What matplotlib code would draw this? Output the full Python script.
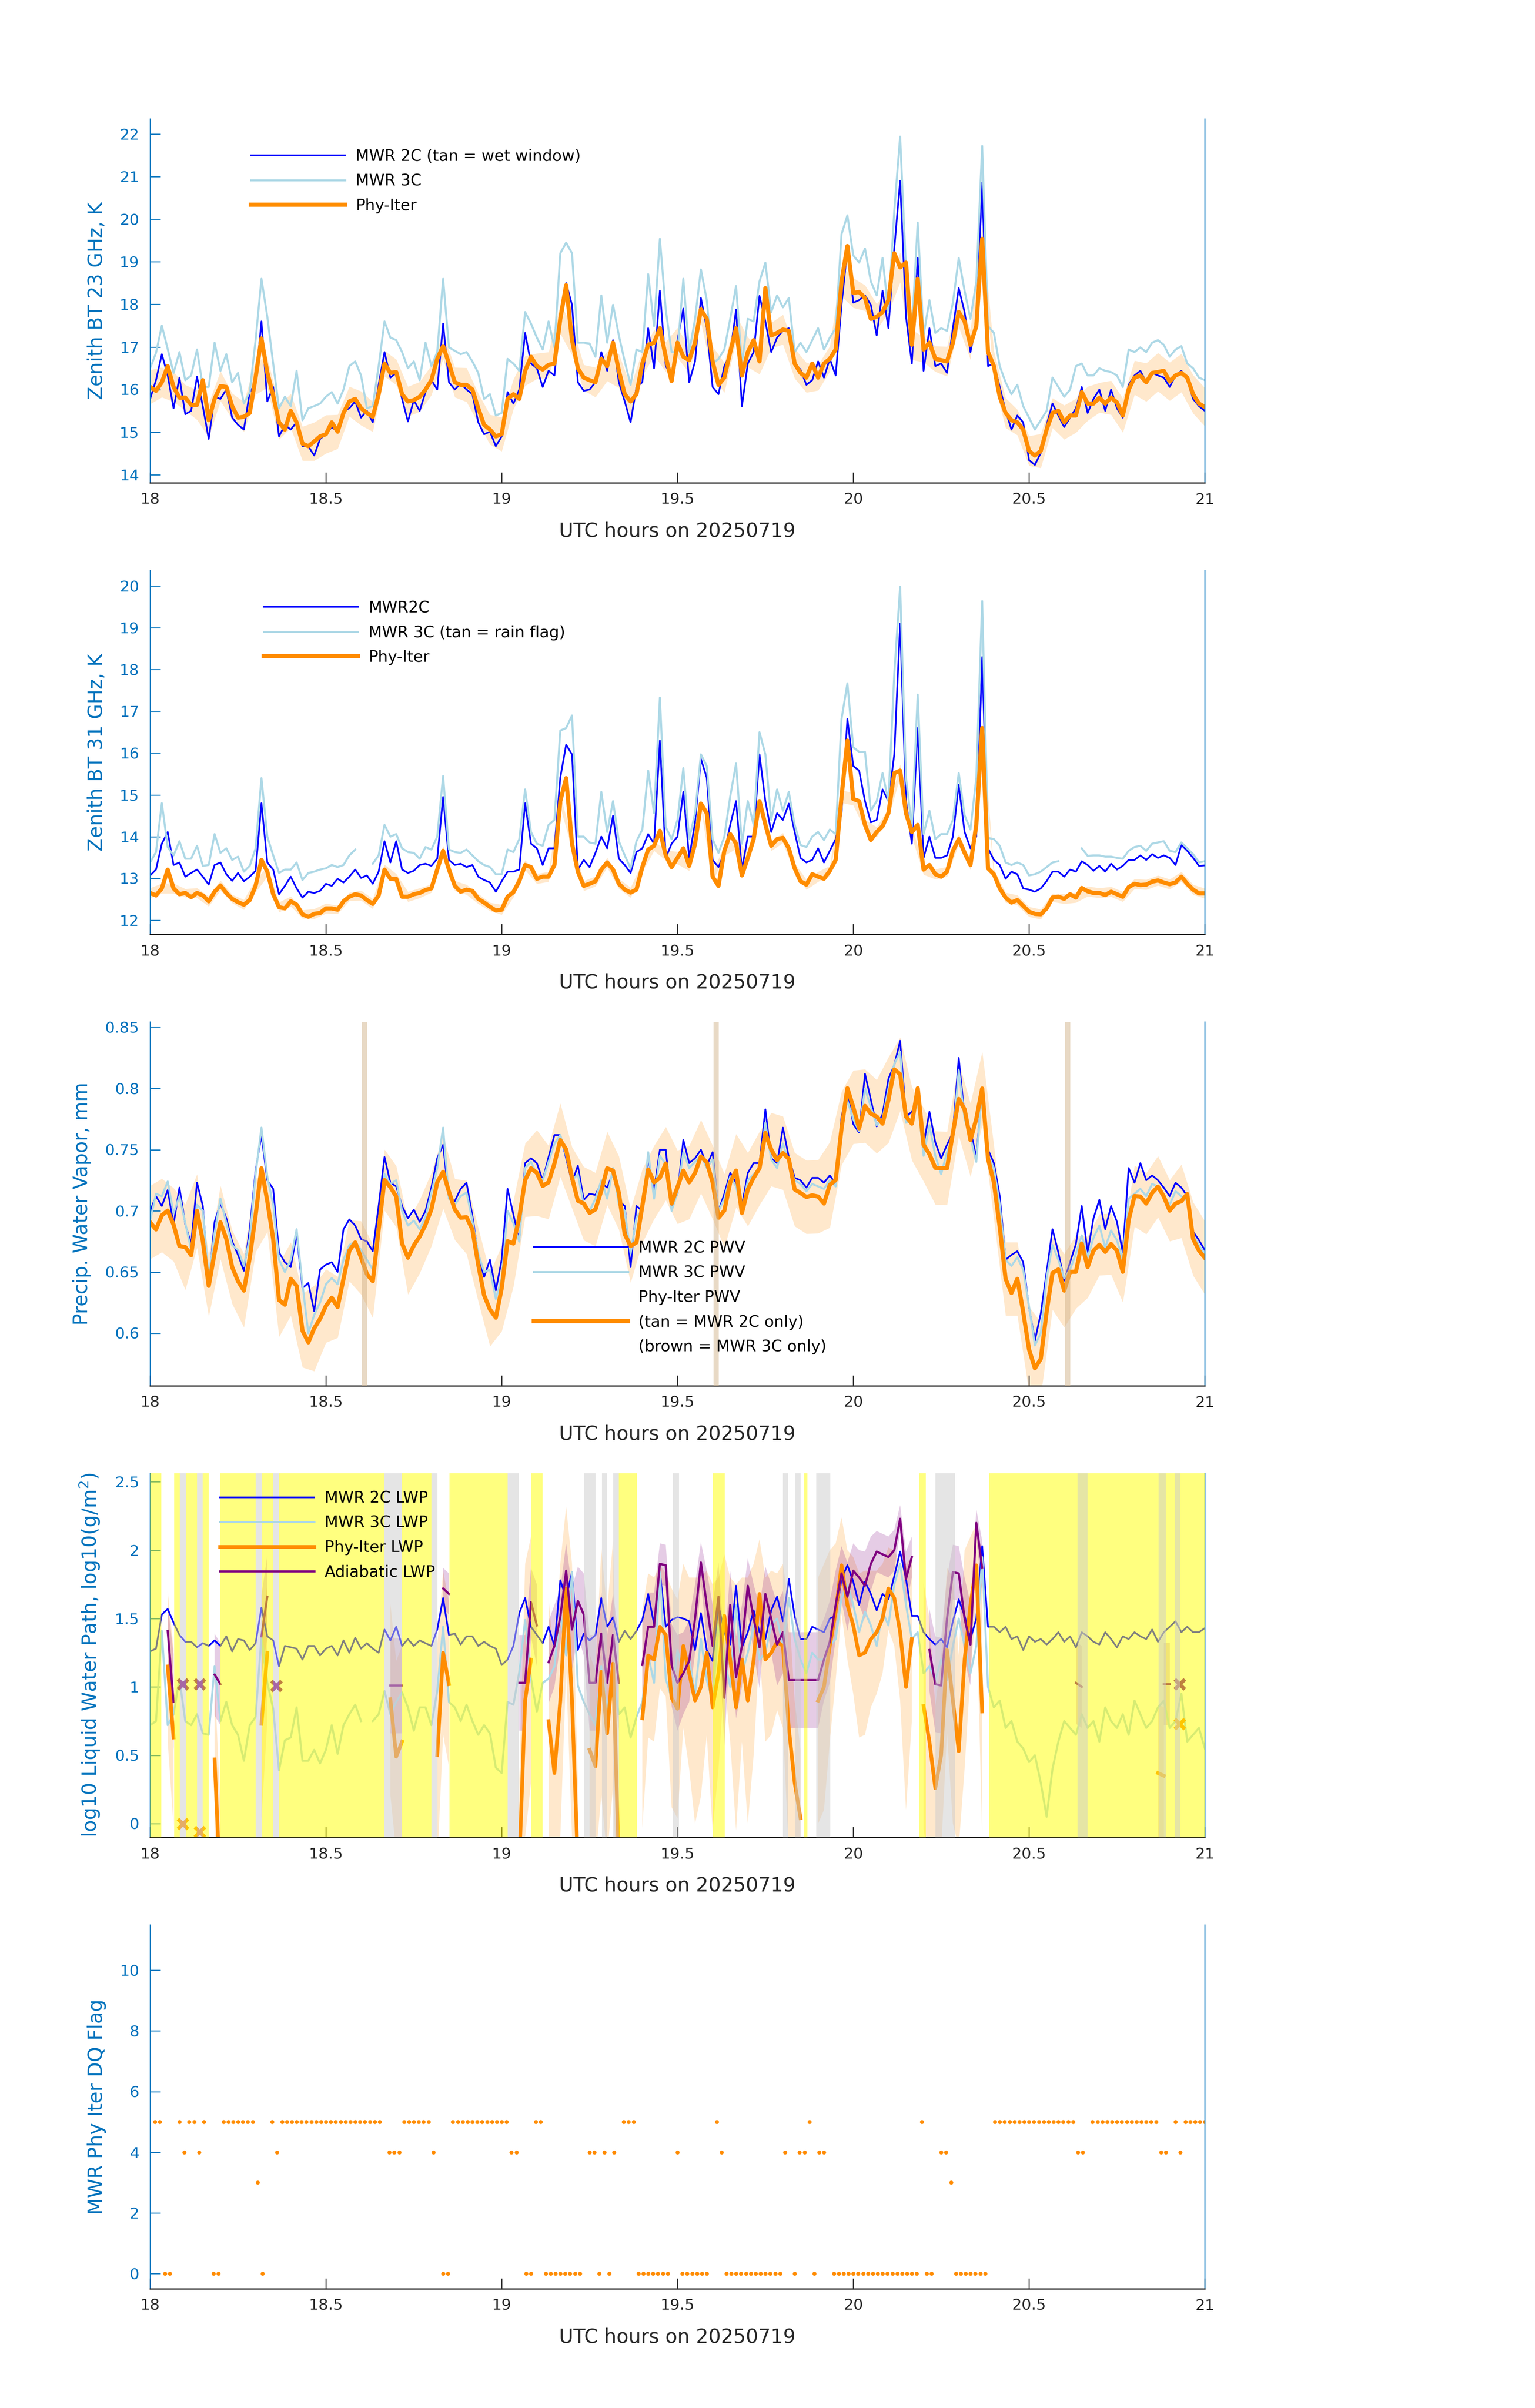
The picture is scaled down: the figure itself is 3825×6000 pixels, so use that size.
import numpy as np
import matplotlib
matplotlib.use('Agg')
import matplotlib.pyplot as plt
from matplotlib.lines import Line2D
from matplotlib.ticker import FuncFormatter

nan = np.nan

# eixo do tempo: um ponto por minuto entre 18 e 21 UTC
minutes = np.arange(181)
hours = 18 + minutes / 60.0
hours_2min = hours[::2]
flag_hours = 18 + np.arange(217) * 50 / 3600.0

# ---- painel 1: BT 23 GHz ----
bt23_2c = [15.78, 16.22, 16.83, 16.33, 15.56, 16.28, 15.42, 15.5, 16.3, 15.6,
           14.84, 15.83, 15.78, 16.0, 15.34, 15.17, 15.06, 15.94, 16.14, 17.6,
           15.72, 16.06, 14.9, 15.17, 15.06, 15.23, 14.67, 14.67, 14.45, 14.84,
           14.95, 15.12, 15.01, 15.5, 15.56, 15.72, 15.34, 15.5, 15.23, 16.11,
           16.88, 16.28, 16.39, 15.78, 15.25, 15.75, 15.5, 15.94, 16.22, 16.0,
           17.55, 16.17, 16.0, 16.14, 16.0, 15.89, 15.23, 14.95, 15.01, 14.67,
           14.9, 15.94, 15.67, 16.0, 17.33, 16.61, 16.5, 16.06, 16.44, 16.33,
           17.71, 18.5, 17.99, 16.17, 15.97, 16.0, 16.17, 16.88, 16.44, 17.16,
           16.17, 15.72, 15.23, 16.06, 16.17, 17.44, 16.5, 18.32, 16.55, 16.33,
           17.16, 17.9, 16.17, 16.66, 18.15, 17.44, 16.06, 15.89, 16.55, 16.83,
           17.88, 15.61, 16.61, 16.88, 18.2, 17.6, 16.88, 17.22, 17.38, 17.44,
           16.61, 16.47, 16.11, 16.22, 16.66, 16.28, 16.72, 16.33, 17.99, 19.31,
           18.04, 18.1, 18.21, 17.99, 17.27, 18.32, 17.44, 19.31, 20.9, 17.71,
           16.61, 19.09, 16.44, 17.44, 16.55, 16.61, 16.39, 17.44, 18.38, 17.82,
           16.88, 17.55, 20.86, 16.55, 16.61, 16.06, 15.5, 15.06, 15.39, 15.23,
           14.34, 14.23, 14.51, 15.17, 15.67, 15.39, 15.12, 15.34, 15.56, 16.06,
           15.45, 15.78, 16.0, 15.5, 16.0, 15.56, 15.34, 16.11, 16.33, 16.44,
           16.17, 16.39, 16.33, 16.28, 16.06, 16.33, 16.44, 16.22, 15.78, 15.61,
           15.5]
bt23_3c = [16.5, 16.86, 17.5, 16.95, 16.39, 16.88, 16.22, 16.33, 16.94, 16.06,
           16.06, 17.1, 16.44, 16.83, 16.17, 16.39, 15.67, 15.94, 17.16, 18.6,
           17.71, 16.61, 15.56, 15.83, 15.61, 16.44, 15.28, 15.56, 15.61, 15.67,
           15.83, 15.94, 15.67, 16.0, 16.55, 16.66, 16.33, 15.56, 15.61, 16.55,
           17.6, 17.22, 17.16, 16.88, 16.5, 16.66, 16.22, 17.1, 16.55, 16.88,
           18.6, 16.99, 16.91, 16.83, 16.88, 16.66, 16.39, 15.78, 15.89, 15.39,
           15.45, 16.72, 16.61, 16.44, 17.82, 17.55, 17.22, 16.94, 17.6, 16.99,
           19.2, 19.45, 19.2, 17.1, 17.1, 17.08, 16.77, 18.21, 17.1, 17.99,
           17.27, 16.66, 16.11, 16.94, 16.88, 18.71, 17.49, 19.54, 17.88, 16.88,
           16.88, 18.6, 16.88, 17.66, 18.82, 18.1, 16.61, 16.72, 16.94, 17.66,
           18.43, 16.61, 17.66, 17.6, 18.54, 18.98, 17.82, 18.21, 17.93, 18.15,
           16.88, 17.1, 16.88, 17.16, 17.44, 16.94, 17.22, 17.44, 19.65, 20.09,
           19.15, 18.98, 19.31, 18.54, 18.21, 19.09, 17.82, 20.2, 21.94, 18.82,
           17.38, 19.92, 17.27, 18.1, 17.33, 17.44, 17.38, 18.04, 19.09, 18.32,
           17.66, 18.54, 21.72, 17.49, 17.33, 16.55, 16.17, 15.89, 16.11, 15.61,
           15.34, 15.06, 15.28, 15.5, 16.28, 16.06, 15.83, 16.0, 16.55, 16.61,
           16.33, 16.33, 16.5, 16.44, 16.41, 16.33, 16.06, 16.94, 16.88, 16.99,
           16.88, 17.1, 17.16, 17.05, 16.77, 16.94, 17.02, 16.61, 16.5, 16.28,
           16.22]
bt23_phy = [16.06, 15.97, 16.17, 16.55, 16.06, 15.81, 15.81, 15.64, 15.64, 16.22,
            15.28, 15.78, 16.08, 16.06, 15.61, 15.34, 15.36, 15.45, 16.28, 17.2,
            16.4, 15.86, 15.23, 15.06, 15.5, 15.23, 14.73, 14.67, 14.78, 14.9,
            14.95, 15.23, 15.01, 15.45, 15.72, 15.78, 15.56, 15.45, 15.36, 15.89,
            16.61, 16.39, 16.41, 15.89, 15.72, 15.75, 15.83, 16.0, 16.22, 16.72,
            17.02, 16.61, 16.17, 16.11, 16.11, 16.0, 15.56, 15.17, 15.06, 14.9,
            14.95, 15.78, 15.89, 15.78, 16.44, 16.77, 16.55, 16.47, 16.58, 16.61,
            17.66, 18.45, 17.16, 16.5, 16.28, 16.22, 16.17, 16.72, 16.55, 17.1,
            16.44, 15.89, 15.72, 15.89, 16.61, 17.05, 17.1, 17.44, 16.77, 16.2,
            17.1, 16.77, 16.69, 17.1, 17.88, 17.66, 16.66, 16.11, 16.28, 16.88,
            17.44, 16.33, 16.88, 17.16, 16.66, 18.38, 17.27, 17.33, 17.41, 17.38,
            16.61, 16.39, 16.28, 16.61, 16.28, 16.61, 16.72, 16.94, 18.54, 19.37,
            18.27, 18.29, 18.15, 17.66, 17.71, 17.82, 18.1, 19.2, 18.87, 18.98,
            17.05, 18.6, 16.94, 17.1, 16.72, 16.69, 16.66, 17.1, 17.82, 17.6,
            17.05, 17.49, 19.54, 16.88, 16.55, 15.83, 15.45, 15.28, 15.23, 15.06,
            14.56, 14.45, 14.56, 15.06, 15.45, 15.5, 15.23, 15.39, 15.39, 15.94,
            15.67, 15.67, 15.81, 15.67, 15.81, 15.7, 15.39, 16.0, 16.28, 16.33,
            16.17, 16.39, 16.41, 16.44, 16.19, 16.33, 16.39, 16.28, 15.89, 15.67,
            15.59]
# meia largura da faixa de incerteza, a cada 2 min
bt23_err = [0.40, 0.35, 0.35, 0.30, 0.35, 0.40, 0.35, 0.30, 0.35, 0.40,
            0.35, 0.40, 0.40, 0.40, 0.45, 0.45, 0.40, 0.35, 0.40, 0.35,
            0.30, 0.30, 0.35, 0.35, 0.35, 0.30, 0.35, 0.40, 0.35, 0.35,
            0.40, 0.35, 0.35, 0.30, 0.30, 0.35, 0.35, 0.30, 0.35, 0.35,
            0.40, 0.35, 0.30, 0.30, 0.35, 0.35, 0.30, 0.30, 0.35, 0.35,
            0.30, 0.35, 0.30, 0.30, 0.35, 0.35, 0.35, 0.30, 0.30, 0.35,
            0.35, 0.30, 0.30, 0.30, 0.35, 0.35, 0.30, 0.30, 0.35, 0.35,
            0.35, 0.30, 0.35, 0.35, 0.30, 0.35, 0.40, 0.35, 0.40, 0.40,
            0.40, 0.35, 0.40, 0.40, 0.40, 0.45, 0.45, 0.45, 0.45, 0.45,
            0.45]

# ---- painel 2: BT 31 GHz ----
bt31_2c = [13.07, 13.21, 13.83, 14.11, 13.32, 13.38, 13.04, 13.13, 13.21, 13.04,
           12.85, 13.32, 13.38, 13.1, 12.94, 13.13, 12.93, 13.04, 13.18, 14.8,
           13.38, 13.21, 12.62, 12.82, 13.04, 12.76, 12.54, 12.68, 12.65, 12.7,
           12.87, 12.82, 12.99, 12.9, 13.04, 13.21, 13.01, 13.07, 12.87, 13.16,
           13.89, 13.38, 13.89, 13.21, 13.13, 13.18, 13.32, 13.35, 13.3, 13.47,
           14.95, 13.44, 13.32, 13.35, 13.27, 13.32, 13.04, 12.96, 12.9, 12.68,
           12.93, 13.16, 13.16, 13.21, 14.8, 13.83, 13.72, 13.32, 13.72, 13.72,
           15.41, 16.2, 15.97, 13.21, 13.44, 13.27, 13.61, 14.0, 13.72, 14.5,
           13.47, 13.32, 13.13, 13.63, 13.72, 14.06, 13.83, 16.3, 13.49, 13.83,
           14.0, 15.07, 13.49, 14.34, 15.86, 15.41, 13.44, 13.27, 13.61, 14.28,
           14.85, 13.21, 14.0, 14.0, 15.97, 14.85, 14.11, 14.56, 14.4, 14.79,
           14.11, 13.49, 13.38, 13.44, 13.72, 13.38, 13.66, 13.94, 14.56, 16.82,
           15.69, 15.58, 14.85, 14.34, 14.4, 15.13, 14.85, 15.97, 19.1, 14.85,
           13.83, 16.6, 13.49, 14.0, 13.49, 13.49, 13.55, 14.0, 15.24, 14.11,
           13.72, 14.0, 18.3, 13.72, 13.44, 13.32, 12.99, 13.16, 13.1, 12.76,
           12.73, 12.68, 12.76, 12.93, 13.16, 13.16, 13.04, 13.21, 13.16, 13.41,
           13.32, 13.18, 13.3, 13.16, 13.35, 13.21, 13.3, 13.44, 13.44, 13.55,
           13.44, 13.58, 13.49, 13.55, 13.49, 13.32, 13.8, 13.66, 13.49, 13.3,
           13.31]
bt31_3c = [13.38, 13.63, 14.8, 13.75, 13.55, 13.89, 13.47, 13.47, 13.78, 13.3,
           13.32, 14.06, 13.61, 13.72, 13.44, 13.52, 13.16, 13.3, 13.72, 15.4,
           14.0, 13.55, 13.13, 13.21, 13.21, 13.38, 12.96, 13.13, 13.16, 13.21,
           13.24, 13.32, 13.27, 13.32, 13.55, 13.69, nan, nan, 13.35, 13.55,
           14.28, 14.0, 14.06, 13.72, 13.63, 13.61, 13.47, 13.75, 13.69, 14.0,
           15.45, 13.69, 13.63, 13.61, 13.69, 13.55, 13.41, 13.32, 13.27, 13.1,
           13.1, 13.69, 13.63, 13.94, 15.13, 14.11, 13.83, 13.78, 14.28, 14.4,
           16.54, 16.6, 16.9, 14.0, 14.0, 13.86, 13.83, 15.07, 14.11, 14.85,
           13.89, 13.55, 13.24, 13.89, 14.17, 15.58, 14.56, 17.33, 14.23, 13.94,
           14.4, 15.64, 13.94, 14.56, 15.97, 15.69, 13.94, 13.61, 14.0, 14.96,
           15.75, 13.83, 14.85, 14.28, 16.5, 15.97, 14.4, 15.13, 14.62, 15.07,
           14.28, 13.8, 13.75, 14.0, 14.11, 13.92, 14.17, 14.06, 16.82, 17.67,
           16.14, 16.03, 16.03, 14.62, 14.85, 15.52, 14.85, 17.9, 19.98, 15.41,
           14.23, 17.4, 14.06, 14.62, 13.94, 14.06, 14.06, 14.4, 15.52, 14.51,
           14.17, 15.41, 19.64, 13.97, 13.94, 13.78, 13.38, 13.32, 13.38, 13.32,
           13.07, 13.1, 13.16, 13.27, 13.38, 13.41, nan, nan, nan, 13.72,
           13.54, 13.55, 13.55, 13.52, 13.52, 13.49, 13.47, 13.66, 13.75, 13.78,
           13.66, 13.83, 13.86, 13.89, 13.66, 13.63, 13.86, 13.72, 13.58, 13.38,
           13.41]
bt31_phy = [12.65, 12.59, 12.76, 13.21, 12.76, 12.62, 12.65, 12.55, 12.65, 12.59,
            12.45, 12.68, 12.83, 12.65, 12.51, 12.43, 12.37, 12.48, 12.82, 13.44,
            13.16, 12.62, 12.31, 12.28, 12.45, 12.37, 12.14, 12.08, 12.15, 12.17,
            12.28, 12.28, 12.25, 12.45, 12.56, 12.62, 12.59, 12.48, 12.39, 12.59,
            13.21, 12.99, 12.99, 12.56, 12.56, 12.62, 12.65, 12.72, 12.76, 13.21,
            13.66, 13.21, 12.82, 12.68, 12.73, 12.7, 12.51, 12.42, 12.32, 12.23,
            12.25, 12.56, 12.67, 12.93, 13.32, 13.27, 12.99, 13.04, 13.04, 13.32,
            14.85, 15.4, 13.83, 13.16, 12.82, 12.87, 12.93, 13.21, 13.38, 13.21,
            12.87, 12.73, 12.66, 12.73, 13.27, 13.69, 13.78, 14.14, 13.55, 13.27,
            13.49, 13.72, 13.3, 13.83, 14.79, 14.56, 13.04, 12.82, 13.66, 14.06,
            13.83, 13.07, 13.49, 13.94, 14.85, 14.29, 13.78, 13.94, 13.97, 13.72,
            13.24, 12.93, 12.85, 13.1, 13.04, 12.99, 13.18, 13.44, 14.96, 16.3,
            14.9, 14.85, 14.28, 13.92, 14.11, 14.25, 14.56, 15.52, 15.58, 14.56,
            14.11, 14.28, 13.21, 13.32, 13.1, 13.04, 13.16, 13.66, 13.94, 13.61,
            13.32, 14.28, 16.6, 13.24, 13.1, 12.76, 12.54, 12.42, 12.48, 12.34,
            12.2, 12.15, 12.14, 12.28, 12.54, 12.56, 12.51, 12.62, 12.54, 12.77,
            12.69, 12.65, 12.65, 12.6, 12.68, 12.62, 12.56, 12.79, 12.87, 12.84,
            12.85, 12.92, 12.95, 12.9, 12.86, 12.9, 13.04, 12.87, 12.73, 12.64,
            12.64]
bt31_err = [0.12, 0.12, 0.12, 0.10, 0.12, 0.12, 0.12, 0.10, 0.12, 0.15,
            0.12, 0.12, 0.12, 0.10, 0.12, 0.12, 0.10, 0.10, 0.12, 0.12,
            0.12, 0.12, 0.12, 0.12, 0.10, 0.12, 0.12, 0.12, 0.12, 0.10,
            0.12, 0.12, 0.12, 0.12, 0.12, 0.15, 0.12, 0.12, 0.12, 0.12,
            0.12, 0.12, 0.12, 0.12, 0.12, 0.15, 0.12, 0.12, 0.12, 0.12,
            0.12, 0.12, 0.12, 0.12, 0.12, 0.12, 0.12, 0.12, 0.12, 0.15,
            0.15, 0.12, 0.12, 0.12, 0.15, 0.12, 0.12, 0.12, 0.12, 0.12,
            0.12, 0.15, 0.12, 0.12, 0.12, 0.12, 0.12, 0.10, 0.12, 0.12,
            0.12, 0.12, 0.12, 0.12, 0.12, 0.12, 0.12, 0.12, 0.12, 0.12,
            0.12]

# ---- painel 3: PWV ----
pwv_2c = [0.700, 0.712, 0.704, 0.717, 0.689, 0.719, 0.689, 0.673, 0.723, 0.704,
          0.639, 0.691, 0.706, 0.694, 0.675, 0.664, 0.651, 0.685, 0.733, 0.762,
          0.725, 0.718, 0.666, 0.658, 0.654, 0.681, 0.637, 0.641, 0.618, 0.652,
          0.656, 0.658, 0.650, 0.685, 0.693, 0.688, 0.677, 0.675, 0.667, 0.704,
          0.744, 0.723, 0.720, 0.704, 0.694, 0.701, 0.691, 0.700, 0.719, 0.743,
          0.754, 0.710, 0.708, 0.718, 0.723, 0.696, 0.664, 0.646, 0.660, 0.635,
          0.660, 0.718, 0.697, 0.675, 0.739, 0.743, 0.739, 0.725, 0.744, 0.762,
          0.762, 0.743, 0.723, 0.737, 0.709, 0.714, 0.713, 0.723, 0.719, 0.731,
          0.708, 0.704, 0.654, 0.704, 0.700, 0.743, 0.716, 0.750, 0.750, 0.704,
          0.714, 0.758, 0.739, 0.743, 0.750, 0.737, 0.748, 0.700, 0.714, 0.731,
          0.723, 0.704, 0.731, 0.739, 0.739, 0.783, 0.743, 0.739, 0.768, 0.744,
          0.727, 0.725, 0.719, 0.727, 0.727, 0.723, 0.729, 0.722, 0.777, 0.798,
          0.771, 0.764, 0.812, 0.791, 0.769, 0.779, 0.808, 0.819, 0.839, 0.777,
          0.781, 0.791, 0.754, 0.781, 0.756, 0.743, 0.754, 0.764, 0.825, 0.777,
          0.766, 0.744, 0.800, 0.750, 0.739, 0.712, 0.660, 0.664, 0.667, 0.658,
          0.621, 0.594, 0.616, 0.650, 0.685, 0.666, 0.643, 0.658, 0.673, 0.704,
          0.666, 0.694, 0.709, 0.685, 0.704, 0.691, 0.666, 0.735, 0.723, 0.739,
          0.725, 0.729, 0.725, 0.719, 0.712, 0.723, 0.719, 0.712, 0.683, 0.676,
          0.668]
pwv_3c = [0.692, 0.714, 0.712, 0.724, 0.698, 0.712, 0.690, 0.668, 0.705, 0.700,
          0.645, 0.682, 0.710, 0.690, 0.672, 0.668, 0.655, 0.678, 0.730, 0.768,
          0.728, 0.705, 0.660, 0.650, 0.660, 0.685, 0.640, 0.600, 0.615, 0.625,
          0.640, 0.645, 0.640, 0.660, 0.672, 0.675, 0.668, 0.660, 0.652, 0.688,
          0.730, 0.722, 0.725, 0.700, 0.688, 0.692, 0.685, 0.695, 0.715, 0.735,
          0.768, 0.710, 0.705, 0.712, 0.715, 0.692, 0.665, 0.650, 0.652, 0.628,
          0.645, 0.700, 0.690, 0.675, 0.735, 0.740, 0.730, 0.725, 0.740, 0.755,
          0.762, 0.745, 0.725, 0.730, 0.705, 0.700, 0.710, 0.725, 0.710, 0.735,
          0.705, 0.700, 0.665, 0.695, 0.700, 0.748, 0.710, 0.745, 0.738, 0.700,
          0.715, 0.748, 0.735, 0.740, 0.745, 0.735, 0.742, 0.700, 0.710, 0.728,
          0.720, 0.700, 0.725, 0.730, 0.735, 0.772, 0.742, 0.735, 0.755, 0.740,
          0.725, 0.722, 0.716, 0.722, 0.720, 0.718, 0.725, 0.720, 0.770, 0.790,
          0.775, 0.765, 0.800, 0.785, 0.770, 0.775, 0.800, 0.820, 0.830, 0.772,
          0.775, 0.790, 0.745, 0.770, 0.745, 0.730, 0.748, 0.760, 0.815, 0.775,
          0.760, 0.740, 0.800, 0.745, 0.735, 0.705, 0.660, 0.655, 0.662, 0.652,
          0.622, 0.590, 0.600, 0.645, 0.672, 0.660, 0.645, 0.652, 0.665, 0.680,
          0.662, 0.678, 0.688, 0.670, 0.684, 0.676, 0.660, 0.710, 0.714, 0.718,
          0.712, 0.722, 0.720, 0.712, 0.705, 0.716, 0.712, 0.708, 0.680, 0.672,
          0.665]
pwv_phy = [0.6906, 0.6848, 0.6963, 0.7002, 0.6887, 0.6713, 0.6704, 0.6637, 0.700, 0.6752,
           0.6387, 0.6656, 0.6906, 0.6771, 0.654, 0.6425, 0.6348, 0.6617, 0.6963, 0.7348,
           0.7079, 0.6771, 0.6271, 0.6233, 0.6444, 0.6387, 0.6021, 0.5925, 0.604, 0.6117,
           0.6223, 0.629, 0.6213, 0.6444, 0.6675, 0.6742, 0.6617, 0.6483, 0.6425, 0.6848,
           0.7252, 0.7194, 0.7117, 0.6733, 0.6617, 0.6717, 0.679, 0.6887, 0.7012, 0.7233,
           0.7319, 0.7156, 0.7012, 0.6944, 0.6948, 0.6848, 0.656, 0.631, 0.6194, 0.6127,
           0.6367, 0.6752, 0.6733, 0.6944, 0.7252, 0.7348, 0.731, 0.7204, 0.7233, 0.7387,
           0.7579, 0.7502, 0.7271, 0.7083, 0.706, 0.6983, 0.7012, 0.7165, 0.7348, 0.7329,
           0.7146, 0.681, 0.6713, 0.6742, 0.704, 0.7338, 0.7233, 0.7271, 0.7387, 0.706,
           0.7194, 0.7329, 0.7233, 0.731, 0.7444, 0.7396, 0.7233, 0.6944, 0.7002, 0.7233,
           0.7329, 0.6983, 0.7175, 0.7271, 0.7348, 0.7637, 0.7502, 0.7415, 0.7473, 0.7425,
           0.7175, 0.7146, 0.7113, 0.7127, 0.7117, 0.706, 0.7213, 0.7252, 0.7675, 0.8002,
           0.7848, 0.7675, 0.7858, 0.7794, 0.7771, 0.7713, 0.7906, 0.8156, 0.8117, 0.7771,
           0.7713, 0.8002, 0.754, 0.7463, 0.7352, 0.7348, 0.7348, 0.7637, 0.7915, 0.7829,
           0.7579, 0.7752, 0.800, 0.7425, 0.7233, 0.6867, 0.6444, 0.6329, 0.6444, 0.6175,
           0.5867, 0.5713, 0.579, 0.6175, 0.6492, 0.6521, 0.6348, 0.6502, 0.6502, 0.6733,
           0.654, 0.6675, 0.6723, 0.6665, 0.6729, 0.6675, 0.6502, 0.6925, 0.7121, 0.7117,
           0.706, 0.7146, 0.7198, 0.7117, 0.7002, 0.706, 0.7079, 0.7137, 0.6771, 0.6675,
           0.6617]
pwv_err = [0.030, 0.030, 0.030, 0.035, 0.030, 0.025, 0.030, 0.030, 0.030, 0.030,
           0.025, 0.030, 0.030, 0.030, 0.035, 0.030, 0.025, 0.025, 0.030, 0.030,
           0.025, 0.025, 0.030, 0.030, 0.030, 0.030, 0.025, 0.030, 0.030, 0.030,
           0.035, 0.035, 0.030, 0.035, 0.030, 0.030, 0.025, 0.030, 0.030, 0.030,
           0.030, 0.030, 0.030, 0.030, 0.030, 0.030, 0.030, 0.030, 0.030, 0.030,
           0.030, 0.030, 0.030, 0.030, 0.030, 0.030, 0.030, 0.030, 0.035, 0.030,
           0.030, 0.030, 0.030, 0.035, 0.030, 0.030, 0.030, 0.030, 0.030, 0.030,
           0.030, 0.030, 0.030, 0.030, 0.030, 0.035, 0.030, 0.030, 0.030, 0.030,
           0.025, 0.025, 0.025, 0.025, 0.025, 0.025, 0.025, 0.025, 0.030, 0.030,
           0.030]
pwv_3c_only = [18.61, 19.61, 20.61]   # faixas marrons

# ---- painel 4: LWP (log10) ----
lwp_2c = [1.26, 1.28, 1.53, 1.57, 1.47, 1.38, 1.33, 1.33, 1.29, 1.32,
          1.3, 1.34, 1.3, 1.37, 1.26, 1.35, 1.34, 1.27, 1.32, 1.58,
          1.37, 1.34, 1.15, 1.3, 1.29, 1.28, 1.2, 1.3, 1.3, 1.23,
          1.28, 1.3, 1.23, 1.34, 1.25, 1.36, 1.28, 1.32, 1.28, 1.25,
          1.42, 1.34, 1.44, 1.3, 1.35, 1.3, 1.34, 1.32, 1.3, 1.42,
          1.65, 1.38, 1.39, 1.31, 1.37, 1.37, 1.3, 1.33, 1.3, 1.28,
          1.16, 1.2, 1.3, 1.54, 1.65, 1.44, 1.38, 1.32, 1.44, 1.3,
          1.78, 1.65, 1.84, 1.27, 1.39, 1.34, 1.38, 1.65, 1.44, 1.51,
          1.33, 1.41, 1.35, 1.41, 1.49, 1.68, 1.46, 1.84, 1.44, 1.49,
          1.51, 1.5, 1.48, 1.27, 1.54, 1.27, 1.19, 1.6, 1.4, 1.31,
          1.74, 1.29, 1.4, 1.56, 1.4, 1.35, 1.56, 1.66, 1.48, 1.79,
          1.52, 1.35, 1.35, 1.44, 1.42, 1.4, 1.5, 1.52, 1.79, 1.89,
          1.77, 1.6, 1.77, 1.68, 1.56, 1.68, 1.64, 1.81, 1.99, 1.79,
          1.52, 1.52, 1.4, 1.35, 1.31, 1.35, 1.29, 1.48, 1.64, 1.52,
          1.35, 1.5, 2.03, 1.44, 1.44, 1.4, 1.44, 1.35, 1.37, 1.27,
          1.37, 1.33, 1.35, 1.31, 1.35, 1.4, 1.33, 1.37, 1.29, 1.4,
          1.37, 1.33, 1.31, 1.4, 1.35, 1.29, 1.37, 1.35, 1.4, 1.37,
          1.35, 1.42, 1.33, 1.4, 1.44, 1.48, 1.4, 1.44, 1.4, 1.4,
          1.43]
lwp_3c = [0.72, 0.75, 1.41, 0.72, 0.8, 1.06, 0.75, 0.72, 0.8, 0.66,
          0.65, 1.15, 0.75, 0.89, 0.72, 0.65, 0.46, 0.72, 0.78, 1.37,
          1.03, 0.84, 0.39, 0.61, 0.63, 0.85, 0.46, 0.46, 0.54, 0.44,
          0.54, 0.72, 0.51, 0.72, 0.8, 0.87, 0.75, nan, 0.75, 0.8,
          0.97, 0.8, 0.89, 0.96, 0.85, 0.68, 0.85, 0.85, 0.72, 0.97,
          1.44, 0.89, 0.85, 0.75, 0.87, 0.75, 0.65, 0.72, 0.66, 0.41,
          0.37, 0.89, 0.87, 1.11, 1.49, 1.06, 0.82, 1.03, 1.06, 1.15,
          1.54, 1.23, 1.84, 1.01, 0.89, 0.8, 0.72, 1.15, 0.84, 1.09,
          0.8, 0.85, 0.63, 0.78, 0.89, 1.23, 1.03, 1.84, 1.06, 0.92,
          1.27, 1.1, 1.2, 0.95, 1.35, 1.05, 0.9, 1.45, 1.2, 1.0,
          1.6, 1.1, 1.25, 1.45, 1.2, 1.25, 1.45, 1.5, 1.3, 1.65,
          1.35, 1.2, 1.1, 1.25, 1.2, 1.2, 1.3, 1.35, 1.65, 1.75,
          1.6, 1.4, 1.55, 1.45, 1.3, 1.55, 1.45, 1.75, 1.9, 1.6,
          1.35, 1.4, 1.1, 1.15, 1.05, 1.2, 1.05, 1.3, 1.5, 1.3,
          1.1, 1.3, 1.95, 1.0, 0.85, 0.9, 0.7, 0.75, 0.6, 0.55,
          0.45, 0.5, 0.3, 0.05, 0.4, 0.6, 0.75, 0.7, 0.65, 0.8,
          0.7, 0.75, 0.6, 0.85, 0.75, 0.7, 0.8, 0.65, 0.9, 0.8,
          0.7, 0.75, 0.85, 0.9, 0.7, 0.75, 0.95, 0.6, 0.65, 0.7,
          0.55]
lwp_phy = [nan, nan, nan, 1.15, 0.63, nan, nan, nan, nan, nan,
           nan, 0.47, -0.5, nan, nan, nan, nan, nan, nan, 0.73,
           1.25, nan, nan, nan, nan, nan, nan, nan, nan, nan,
           nan, nan, nan, nan, nan, nan, nan, nan, nan, nan,
           nan, 0.91, 0.49, 0.6, nan, nan, nan, nan, nan, 0.5,
           1.25, 1.02, nan, nan, nan, nan, nan, nan, nan, nan,
           nan, nan, nan, -0.3, 0.9, 1.2, nan, nan, 0.75, 0.37,
           0.9, 1.72, 0.9, -0.3, nan, 0.54, 0.42, 1.11, 0.66, 1.17,
           -0.3, nan, nan, nan, 0.77, 1.23, 1.2, 1.44, 1.38, 0.92,
           0.84, 1.3, 1.1, 0.9, 1.0, 1.25, 0.85, 1.1, 1.52, 1.2,
           0.85, 1.2, 0.9, 1.2, 1.68, 1.2, 1.25, 1.33, 1.3, 0.7,
           0.3, 0.04, nan, nan, 0.9, 1.0, 1.3, 1.55, 1.89, 1.6,
           1.45, 1.23, 1.25, 1.35, 1.4, 1.5, 1.72, 1.65, 1.4, 1.0,
           1.35, nan, 0.86, 0.6, 0.26, 0.5, 1.27, 0.9, 0.53, 1.2,
           1.6, 1.89, 0.82, nan, nan, nan, nan, nan, nan, nan,
           nan, nan, nan, nan, nan, nan, nan, nan, nan, nan,
           nan, nan, nan, nan, nan, nan, nan, nan, nan, nan,
           nan, nan, 0.37, 0.35, nan, nan, nan, nan, nan, nan,
           nan]
lwp_phy_err = [nan, nan, nan, 0.55, 0.65, nan, nan, nan, nan, nan,
               nan, 0.6, 0.6, nan, nan, nan, nan, nan, nan, 0.7,
               0.5, nan, nan, nan, nan, nan, nan, nan, nan, nan,
               nan, nan, nan, nan, nan, nan, nan, nan, nan, nan,
               nan, 0.7, 0.7, 0.7, nan, nan, nan, nan, nan, 0.8,
               0.6, 0.6, nan, nan, nan, nan, nan, nan, nan, nan,
               nan, nan, nan, 0.6, 1.0, 0.9, nan, nan, 0.9, 0.8,
               1.0, 0.6, 1.0, 0.6, nan, 0.7, 0.7, 0.9, 0.9, 0.9,
               0.6, nan, nan, nan, 0.8, 0.6, 0.6, 0.45, 0.45, 0.8,
               0.8, 0.6, 0.7, 0.9, 0.8, 0.6, 0.9, 0.7, 0.45, 0.6,
               0.9, 0.6, 0.9, 0.7, 0.4, 0.6, 0.6, 0.5, 0.6, 0.9,
               0.6, 0.5, nan, nan, 0.9, 0.9, 0.7, 0.5, 0.35, 0.4,
               0.5, 0.6, 0.6, 0.5, 0.45, 0.4, 0.3, 0.35, 0.5, 0.9,
               0.6, nan, 0.9, 0.9, 0.6, 0.7, 0.6, 0.9, 0.7, 0.8,
               0.5, 0.3, 0.9, nan, nan, nan, nan, nan, nan, nan,
               nan, nan, nan, nan, nan, nan, nan, nan, nan, nan,
               nan, nan, nan, nan, nan, nan, nan, nan, nan, nan,
               nan, nan, 0.5, 0.5, nan, nan, nan, nan, nan, nan,
               nan]
lwp_adi = [nan, nan, nan, 1.41, 0.89, nan, nan, nan, nan, nan,
           nan, 1.09, 1.02, nan, nan, nan, nan, nan, nan, 1.37,
           1.66, nan, nan, nan, nan, nan, nan, nan, nan, nan,
           nan, nan, nan, nan, nan, nan, nan, nan, nan, nan,
           nan, 1.01, 1.01, 1.01, nan, nan, nan, nan, nan, nan,
           1.72, 1.68, nan, nan, nan, nan, nan, nan, nan, nan,
           nan, nan, nan, 1.03, 1.03, 1.62, 1.45, nan, 1.18, 1.3,
           1.51, 1.85, 1.42, 1.63, 1.53, 1.03, 1.03, 1.39, 1.03, 1.38,
           1.03, nan, nan, nan, 1.16, 1.44, 1.44, 1.9, 1.89, 1.16,
           1.03, 1.1, 1.19, 1.5, 1.91, 1.6, 1.3, 1.66, 0.92, 1.6,
           1.07, 1.3, 1.74, 1.5, 1.29, 1.68, 1.5, 1.31, 1.4, 1.05,
           1.05, 1.05, 1.05, 1.05, 1.05, 1.2, 1.33, 1.6, 1.83, 1.66,
           1.85, 1.8, 1.74, 1.9, 1.99, 1.97, 1.95, 2.0, 2.23, 1.79,
           1.95, nan, nan, 1.27, 1.02, 1.01, 1.5, 1.84, 1.83, 1.5,
           1.31, 2.2, 1.87, nan, nan, nan, nan, nan, nan, nan,
           nan, nan, nan, nan, nan, nan, nan, nan, 1.03, 1.0,
           nan, nan, nan, nan, nan, nan, nan, nan, nan, nan,
           nan, nan, nan, 1.02, 1.02, nan, nan, nan, nan, nan,
           nan]
lwp_adi_err = [nan, nan, nan, 0.2, 0.35, nan, nan, nan, nan, nan,
               nan, 0.3, 0.3, nan, nan, nan, nan, nan, nan, 0.3,
               0.3, nan, nan, nan, nan, nan, nan, nan, nan, nan,
               nan, nan, nan, nan, nan, nan, nan, nan, nan, nan,
               nan, 0.35, 0.35, 0.35, nan, nan, nan, nan, nan, nan,
               0.15, 0.15, nan, nan, nan, nan, nan, nan, nan, nan,
               nan, nan, nan, 0.35, 0.35, 0.25, 0.3, nan, 0.3, 0.3,
               0.2, 0.2, 0.3, 0.25, 0.3, 0.35, 0.35, 0.3, 0.35, 0.3,
               0.35, nan, nan, nan, 0.3, 0.25, 0.25, 0.15, 0.15, 0.3,
               0.35, 0.3, 0.3, 0.25, 0.15, 0.25, 0.3, 0.25, 0.35, 0.25,
               0.3, 0.3, 0.2, 0.25, 0.3, 0.2, 0.25, 0.3, 0.3, 0.35,
               0.35, 0.35, 0.35, 0.35, 0.35, 0.3, 0.3, 0.25, 0.2, 0.25,
               0.2, 0.2, 0.25, 0.2, 0.15, 0.15, 0.15, 0.15, 0.1, 0.2,
               0.15, nan, nan, 0.3, 0.35, 0.35, 0.3, 0.2, 0.2, 0.3,
               0.3, 0.1, 0.2, nan, nan, nan, nan, nan, nan, nan,
               nan, nan, nan, nan, nan, nan, nan, nan, 0.3, 0.3,
               nan, nan, nan, nan, nan, nan, nan, nan, nan, nan,
               nan, nan, nan, 0.3, 0.3, nan, nan, nan, nan, nan,
               nan]
# marcadores x (hora, valor)
adi_x_marks = [(18.092, 1.02), (18.140, 1.02), (18.358, 1.01), (20.928, 1.02)]
phy_x_marks = [(18.092, 0.0), (18.140, -0.06), (20.928, 0.73)]
# intervalos amarelos e cinzas (hora inicial, hora final)
yellow_spans = [(18.0, 18.032), (18.068, 18.084), (18.101, 18.134), (18.150, 18.166),
                (18.199, 18.300), (18.317, 18.350), (18.366, 18.666), (18.716, 18.800),
                (18.851, 19.017), (19.083, 19.116), (19.333, 19.384), (19.600, 19.635),
                (19.860, 19.870), (20.187, 20.206), (20.387, 21.0)]
gray_spans = [(18.084, 18.101), (18.134, 18.150), (18.300, 18.317), (18.350, 18.366),
              (18.666, 18.716), (18.800, 18.817), (19.017, 19.049), (19.234, 19.267),
              (19.285, 19.300), (19.317, 19.333), (19.487, 19.504), (19.800, 19.815),
              (19.835, 19.850), (19.895, 19.935), (20.234, 20.290), (20.638, 20.666),
              (20.869, 20.889), (20.915, 20.930)]

# ---- painel 5: flag de qualidade (passo de 50 s) ----
flag_phy = [nan, 5, 5, 0, 0, nan, 5, 4, 5, 5,
            4, 5, nan, 0, 0, 5, 5, 5, 5, 5,
            5, 5, 3, 0, nan, 5, 4, 5, 5, 5,
            5, 5, 5, 5, 5, 5, 5, 5, 5, 5,
            5, 5, 5, 5, 5, 5, 5, 5, nan, 4,
            4, 4, 5, 5, 5, 5, 5, 5, 4, nan,
            0, 0, 5, 5, 5, 5, 5, 5, 5, 5,
            5, 5, 5, 5, 4, 4, nan, 0, 0, 5,
            5, 0, 0, 0, 0, 0, 0, 0, 0, nan,
            4, 4, 0, 4, 0, 4, nan, 5, 5, 5,
            0, 0, 0, 0, 0, 0, 0, nan, 4, 0,
            0, 0, 0, 0, 0, nan, 5, 4, 0, 0,
            0, 0, 0, 0, 0, 0, 0, 0, 0, 0,
            4, nan, 0, 4, 4, 5, 0, 4, 4, nan,
            0, 0, 0, 0, 0, 0, 0, 0, 0, 0,
            0, 0, 0, 0, 0, 0, 0, 0, 5, 0,
            0, nan, 4, 4, 3, 0, 0, 0, 0, 0,
            0, 0, nan, 5, 5, 5, 5, 5, 5, 5,
            5, 5, 5, 5, 5, 5, 5, 5, 5, 5,
            4, 4, nan, 5, 5, 5, 5, 5, 5, 5,
            5, 5, 5, 5, 5, 5, 5, 4, 4, nan,
            5, 4, 5, 5, 5, 5, 5]

AX_BLUE = (0, 0.447, 0.741)
DARK = (0.15, 0.15, 0.15)
fmt = FuncFormatter(lambda v, p: f'{v:g}')


def style_axes(ax, ylim, yticks, ylabel):
    ax.set_xlim(18, 21)
    ax.set_ylim(*ylim)
    ax.set_xticks([18, 18.5, 19, 19.5, 20, 20.5, 21])
    ax.set_yticks(yticks)
    ax.xaxis.set_major_formatter(fmt)
    ax.yaxis.set_major_formatter(fmt)
    ax.tick_params(axis='x', direction='in', length=6.3, width=0.6, colors=DARK,
                   labelsize=9.2, pad=6, top=False)
    ax.tick_params(axis='y', direction='in', length=6.3, width=0.6, colors=AX_BLUE,
                   labelsize=9.2, pad=6.5, right=False)
    ax.spines['top'].set_visible(False)
    ax.spines['left'].set_color(AX_BLUE)
    ax.spines['right'].set_color(AX_BLUE)
    ax.spines['bottom'].set_color(DARK)
    ax.spines['left'].set_linewidth(0.6)
    ax.spines['right'].set_linewidth(0.6)
    ax.spines['bottom'].set_linewidth(0.8)
    ax.set_xlabel('UTC hours on 20250719', fontsize=11.7, color=DARK, labelpad=8.5)
    ax.set_ylabel(ylabel, fontsize=11.7, color=AX_BLUE, labelpad=8)


def add_legend(ax, handles, labels, x, y):
    ax.legend(handles, labels, loc='upper left', bbox_to_anchor=(x, y),
              frameon=False, fontsize=9.4, handlelength=6.0, handletextpad=0.66,
              labelspacing=0.6, borderpad=0, borderaxespad=0)


fig = plt.figure(figsize=(12.75, 20), dpi=300)
left, width, height = 0.0978, 0.6871, 0.1512
bottoms = [0.7995, 0.6120, 0.4245, 0.2370, 0.0495]
axes = [fig.add_axes([left, b, width, height]) for b in bottoms]

# painel 1
ax = axes[0]
l1, = ax.plot(hours, bt23_2c, color='blue', lw=1.0)
l2, = ax.plot(hours, bt23_3c, color='lightblue', lw=1.2)
p23 = np.array(bt23_phy)[::2]
ax.fill_between(hours_2min, p23 - np.array(bt23_err), p23 + np.array(bt23_err),
                color='darkorange', alpha=0.2, lw=0)
l3, = ax.plot(hours, bt23_phy, color='darkorange', lw=2.5)
style_axes(ax, (13.81, 22.36), range(14, 23), 'Zenith BT 23 GHz, K')
add_legend(ax, [l1, l2, l3], ['MWR 2C (tan = wet window)', 'MWR 3C', 'Phy-Iter'],
           0.0955, 0.917)

# painel 2
ax = axes[1]
l1, = ax.plot(hours, bt31_2c, color='blue', lw=1.0)
l2, = ax.plot(hours, bt31_3c, color='lightblue', lw=1.2)
p31 = np.array(bt31_phy)[::2]
ax.fill_between(hours_2min, p31 - np.array(bt31_err), p31 + np.array(bt31_err),
                color='darkorange', alpha=0.2, lw=0)
l3, = ax.plot(hours, bt31_phy, color='darkorange', lw=2.5)
style_axes(ax, (11.66, 20.38), range(12, 21), 'Zenith BT 31 GHz, K')
add_legend(ax, [l1, l2, l3], ['MWR2C', 'MWR 3C (tan = rain flag)', 'Phy-Iter'],
           0.1077, 0.917)

# painel 3
ax = axes[2]
l1, = ax.plot(hours, pwv_2c, color='blue', lw=1.0)
l2, = ax.plot(hours, pwv_3c, color='lightblue', lw=1.2)
ppw = np.array(pwv_phy)[::2]
ax.fill_between(hours_2min, ppw - np.array(pwv_err), ppw + np.array(pwv_err),
                color='darkorange', alpha=0.2, lw=0)
l3, = ax.plot(hours, pwv_phy, color='darkorange', lw=2.5)
for h in pwv_3c_only:
    ax.axvspan(h - 0.0075, h + 0.0075, color='tan', alpha=0.5, lw=0, zorder=3)
style_axes(ax, (0.557, 0.8546), [0.6, 0.65, 0.7, 0.75, 0.8, 0.85],
           'Precip. Water Vapor, mm')
blank = Line2D([], [], color='none')
add_legend(ax, [l1, l2, blank, l3, blank],
           ['MWR 2C PWV', 'MWR 3C PWV', 'Phy-Iter PWV', '(tan = MWR 2C only)',
            '(brown = MWR 3C only)'], 0.3638, 0.399)

# painel 4
ax = axes[3]
l1, = ax.plot(hours, lwp_2c, color='blue', lw=1.0)
l2, = ax.plot(hours, lwp_3c, color='lightblue', lw=1.2)
lp = np.array(lwp_phy)
le = np.array(lwp_phy_err)
ax.fill_between(hours, lp - le, lp + le, color='darkorange', alpha=0.2, lw=0)
l3, = ax.plot(hours, lwp_phy, color='darkorange', lw=2.2)
la = np.array(lwp_adi)
lae = np.array(lwp_adi_err)
ax.fill_between(hours, la - lae, la + lae, color='purple', alpha=0.2, lw=0)
l4, = ax.plot(hours, lwp_adi, color='purple', lw=1.3)
ax.plot([m[0] for m in adi_x_marks], [m[1] for m in adi_x_marks], 'x',
        color='purple', ms=6, mew=2.2)
ax.plot([m[0] for m in phy_x_marks], [m[1] for m in phy_x_marks], 'x',
        color='darkorange', ms=6, mew=2.2)
for a, b in yellow_spans:
    ax.axvspan(a, b, color='yellow', alpha=0.5, lw=0, zorder=3)
for a, b in gray_spans:
    ax.axvspan(a, b, color=(0.8, 0.8, 0.8), alpha=0.5, lw=0, zorder=3)
style_axes(ax, (-0.1, 2.563), [0, 0.5, 1, 1.5, 2, 2.5],
           'log10 Liquid Water Path, log10(g/m$^2$)')
add_legend(ax, [l1, l2, l3, l4],
           ['MWR 2C LWP', 'MWR 3C LWP', 'Phy-Iter LWP', 'Adiabatic LWP'],
           0.0662, 0.952)

# painel 5
ax = axes[4]
ax.plot(flag_hours, flag_phy, 'o', color='darkorange', ms=2.4, mew=0)
style_axes(ax, (-0.5, 11.5), [0, 2, 4, 6, 8, 10], 'MWR Phy Iter DQ Flag')

fig.savefig('out.png', dpi=300)
